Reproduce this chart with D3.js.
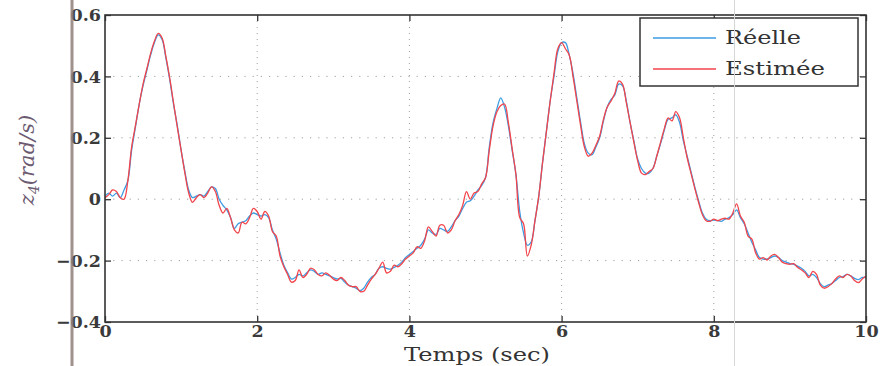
<!DOCTYPE html>
<html>
<head>
<meta charset="utf-8">
<script src="https://cdn.jsdelivr.net/npm/d3@7"></script>
<style>
  html, body { margin: 0; padding: 0; background: #fff; }
  svg { display: block; }
</style>
</head>
<body>
<svg id="chart" width="884" height="366"></svg>
<script>
// Angular velocity z4: measured vs. observer estimate, sampled every 0.05 s
const tStart = 0, tEnd = 10, tStep = 0.05;

const reelle = [
  0.010, 0.020, 0.010, 0.020, 0.005, 0.030, 0.060, 0.160, 0.235, 0.310,
  0.370, 0.420, 0.470, 0.510, 0.535, 0.520, 0.460, 0.390, 0.310, 0.240,
  0.160, 0.090, 0.030, 0.005, 0.010, 0.015, 0.010, 0.025, 0.040, 0.035,
  0.000, -0.020, -0.035, -0.060, -0.095, -0.080, -0.075, -0.070, -0.055, -0.045,
  -0.050, -0.055, -0.050, -0.060, -0.100, -0.130, -0.175, -0.215, -0.240, -0.260,
  -0.255, -0.245, -0.250, -0.240, -0.230, -0.235, -0.245, -0.240, -0.245, -0.250,
  -0.255, -0.260, -0.258, -0.270, -0.280, -0.285, -0.290, -0.298, -0.290, -0.270,
  -0.255, -0.245, -0.225, -0.220, -0.225, -0.228, -0.222, -0.215, -0.205, -0.190,
  -0.180, -0.170, -0.160, -0.150, -0.130, -0.100, -0.110, -0.115, -0.095, -0.100,
  -0.105, -0.090, -0.070, -0.055, -0.030, -0.010, -0.005, 0.010, 0.030, 0.045,
  0.070, 0.170, 0.250, 0.295, 0.330, 0.300, 0.240, 0.160, 0.080, -0.040,
  -0.110, -0.150, -0.140, -0.070, 0.010, 0.120, 0.220, 0.320, 0.400, 0.480,
  0.510, 0.510, 0.470, 0.410, 0.330, 0.250, 0.180, 0.150, 0.145, 0.170,
  0.200, 0.255, 0.300, 0.325, 0.340, 0.375, 0.370, 0.320, 0.250, 0.190,
  0.130, 0.100, 0.085, 0.085, 0.100, 0.140, 0.180, 0.225, 0.260, 0.265,
  0.275, 0.250, 0.190, 0.140, 0.090, 0.040, -0.005, -0.045, -0.065, -0.070,
  -0.068, -0.070, -0.072, -0.065, -0.060, -0.050, -0.035, -0.060, -0.080, -0.110,
  -0.140, -0.165, -0.190, -0.195, -0.195, -0.190, -0.185, -0.190, -0.200, -0.205,
  -0.210, -0.212, -0.218, -0.225, -0.235, -0.250, -0.245, -0.255, -0.275, -0.285,
  -0.280, -0.275, -0.265, -0.255, -0.252, -0.245, -0.250, -0.258, -0.262, -0.255,
  -0.255
];

const estimee = [
  0.005, 0.015, 0.030, 0.025, 0.005, 0.000, 0.060, 0.170, 0.240, 0.310,
  0.375, 0.425, 0.475, 0.515, 0.540, 0.525, 0.465, 0.395, 0.315, 0.235,
  0.160, 0.085, 0.020, -0.010, 0.005, 0.015, 0.005, 0.020, 0.040, 0.025,
  -0.020, -0.045, -0.030, -0.060, -0.100, -0.110, -0.075, -0.080, -0.060, -0.030,
  -0.040, -0.065, -0.040, -0.055, -0.105, -0.120, -0.185, -0.220, -0.245, -0.270,
  -0.265, -0.230, -0.255, -0.245, -0.225, -0.230, -0.245, -0.250, -0.240, -0.248,
  -0.260, -0.265, -0.255, -0.265, -0.280, -0.285, -0.285, -0.300, -0.300, -0.280,
  -0.260, -0.245, -0.225, -0.205, -0.240, -0.235, -0.215, -0.220, -0.210, -0.195,
  -0.185, -0.175, -0.155, -0.160, -0.135, -0.090, -0.105, -0.120, -0.085, -0.085,
  -0.110, -0.100, -0.070, -0.050, -0.020, 0.025, 0.000, 0.020, 0.025, 0.050,
  0.070, 0.160, 0.240, 0.285, 0.305, 0.310, 0.250, 0.165, 0.080, -0.060,
  -0.080, -0.185, -0.150, -0.070, 0.010, 0.120, 0.220, 0.320, 0.410, 0.490,
  0.510, 0.490, 0.470, 0.400, 0.320, 0.240, 0.170, 0.140, 0.150, 0.175,
  0.205, 0.260, 0.300, 0.320, 0.345, 0.385, 0.375, 0.315, 0.250, 0.185,
  0.125, 0.085, 0.080, 0.090, 0.100, 0.140, 0.185, 0.230, 0.265, 0.255,
  0.285, 0.265, 0.200, 0.135, 0.085, 0.035, -0.010, -0.050, -0.070, -0.072,
  -0.065, -0.070, -0.065, -0.062, -0.065, -0.045, -0.015, -0.055, -0.075, -0.120,
  -0.130, -0.175, -0.195, -0.190, -0.198, -0.185, -0.180, -0.190, -0.205, -0.210,
  -0.212, -0.210, -0.222, -0.230, -0.240, -0.255, -0.235, -0.245, -0.280, -0.290,
  -0.285, -0.275, -0.260, -0.250, -0.255, -0.245, -0.250, -0.265, -0.272, -0.260,
  -0.250
];

const xTicks = [0, 2, 4, 6, 8, 10];
const xTickLabels = ["0", "2", "4", "6", "8", "10"];
const yTicks = [-0.4, -0.2, 0, 0.2, 0.4, 0.6];
const yTickLabels = ["\u22120.4", "\u22120.2", "0", "0.2", "0.4", "0.6"];
const seriesNames = ["R\u00e9elle", "Estim\u00e9e"];
const seriesColors = ["#3d9be3", "#f2454b"];

const svg = d3.select("#chart");
const W = 884, H = 366;
const plot = { left: 105, right: 866, top: 15, bottom: 322 };

const x = d3.scaleLinear().domain([tStart, tEnd]).range([plot.left, plot.right]);
const y = d3.scaleLinear().domain([-0.4, 0.6]).range([plot.bottom, plot.top]);

const time = d3.range(reelle.length).map(i => +(tStart + i * tStep).toFixed(2));
const series = [reelle, estimee].map((vals, k) => ({
  name: seriesNames[k],
  color: seriesColors[k],
  points: vals.map((v, i) => ({ t: time[i], v }))
}));

svg.append("rect").attr("width", W).attr("height", H).attr("fill", "#fff");

// dotted grid
const grid = svg.append("g");
grid.selectAll("line.gx").data(xTicks.slice(1, -1)).join("line")
  .attr("x1", d => x(d)).attr("x2", d => x(d))
  .attr("y1", plot.top).attr("y2", plot.bottom)
  .attr("stroke", "#a0a0a0").attr("stroke-width", 1)
  .attr("stroke-dasharray", "1,5");
grid.selectAll("line.gy").data(yTicks.slice(1, -1)).join("line")
  .attr("x1", plot.left).attr("x2", plot.right)
  .attr("y1", d => y(d)).attr("y2", d => y(d))
  .attr("stroke", "#a0a0a0").attr("stroke-width", 1)
  .attr("stroke-dasharray", "1.2,7");

// curves
const line = d3.line()
  .x(d => x(d.t)).y(d => y(d.v))
  .curve(d3.curveCatmullRom.alpha(0.5));

svg.append("clipPath").attr("id", "plotclip")
  .append("rect").attr("x", plot.left).attr("y", plot.top)
  .attr("width", plot.right - plot.left).attr("height", plot.bottom - plot.top);

svg.append("g").attr("clip-path", "url(#plotclip)")
  .selectAll("path").data(series).join("path")
  .attr("d", d => line(d.points))
  .attr("fill", "none")
  .attr("stroke", d => d.color)
  .attr("stroke-width", 1.3)
  .attr("stroke-linejoin", "round");

// axes with inward ticks on all four sides
const tickFont = "'DejaVu Serif', serif";
const axB = svg.append("g").attr("transform", `translate(0,${plot.bottom})`)
  .call(d3.axisBottom(x).tickValues(xTicks).tickFormat((d, i) => xTickLabels[i])
    .tickSize(-6).tickPadding(4));
const axL = svg.append("g").attr("transform", `translate(${plot.left},0)`)
  .call(d3.axisLeft(y).tickValues(yTicks).tickFormat((d, i) => yTickLabels[i])
    .tickSize(-6).tickPadding(4));
const axT = svg.append("g").attr("transform", `translate(0,${plot.top})`)
  .call(d3.axisTop(x).tickValues(xTicks).tickFormat("").tickSize(-6));
const axR = svg.append("g").attr("transform", `translate(${plot.right},0)`)
  .call(d3.axisRight(y).tickValues(yTicks).tickFormat("").tickSize(-6));

[axB, axL, axT, axR].forEach(g => {
  g.select(".domain").remove();
  g.selectAll(".tick line").attr("stroke", "#333").attr("stroke-width", 1.3);
  g.selectAll(".tick text")
    .attr("font-family", tickFont).attr("font-weight", "bold")
    .attr("font-size", 17.5).attr("fill", "#3a3a3a");
});
axB.selectAll(".tick text").attr("dy", "0.62em");

// frame
svg.append("rect")
  .attr("x", plot.left).attr("y", plot.top)
  .attr("width", plot.right - plot.left).attr("height", plot.bottom - plot.top)
  .attr("fill", "none").attr("stroke", "#333").attr("stroke-width", 1.6);

// legend
const lg = svg.append("g");
lg.append("rect").attr("x", 640).attr("y", 18).attr("width", 218).attr("height", 68)
  .attr("fill", "#fff").attr("stroke", "#333").attr("stroke-width", 1.5);
const rows = lg.selectAll("g.row").data(series).join("g")
  .attr("transform", (d, i) => `translate(0,${38 + i * 31})`);
rows.append("line").attr("x1", 653).attr("x2", 716).attr("y1", 0).attr("y2", 0)
  .attr("stroke", d => d.color).attr("stroke-width", 1.3);
rows.append("text").attr("x", 725).attr("y", 6)
  .attr("font-family", tickFont).attr("font-size", 19).attr("fill", "#333")
  .attr("textLength", (d, i) => i === 0 ? 76 : 100).attr("lengthAdjust", "spacingAndGlyphs")
  .text(d => d.name);

// axis titles
svg.append("text").attr("x", 477).attr("y", 361)
  .attr("text-anchor", "middle")
  .attr("font-family", tickFont).attr("font-size", 18).attr("fill", "#333")
  .attr("textLength", 146).attr("lengthAdjust", "spacingAndGlyphs")
  .text("Temps (sec)");

const yl = svg.append("text")
  .attr("transform", "translate(34,160) rotate(-90)")
  .attr("text-anchor", "middle")
  .attr("font-family", tickFont).attr("font-style", "italic")
  .attr("font-size", 21).attr("fill", "#6b5a70");
yl.append("tspan").text("z");
yl.append("tspan").attr("font-size", 14).attr("dy", 5).text("4");
yl.append("tspan").attr("dy", -5).text("(rad/s)");

// scanned-page marks: binding shadow on the left and a faint fold line
svg.append("line").attr("x1", 72).attr("x2", 72).attr("y1", 0).attr("y2", H)
  .attr("stroke", "#8f7f7a").attr("stroke-width", 3).attr("opacity", 0.85);
svg.append("line").attr("x1", 734.5).attr("x2", 734.5).attr("y1", 0).attr("y2", H)
  .attr("stroke", "#d6d6d6").attr("stroke-width", 1);
</script>
</body>
</html>
